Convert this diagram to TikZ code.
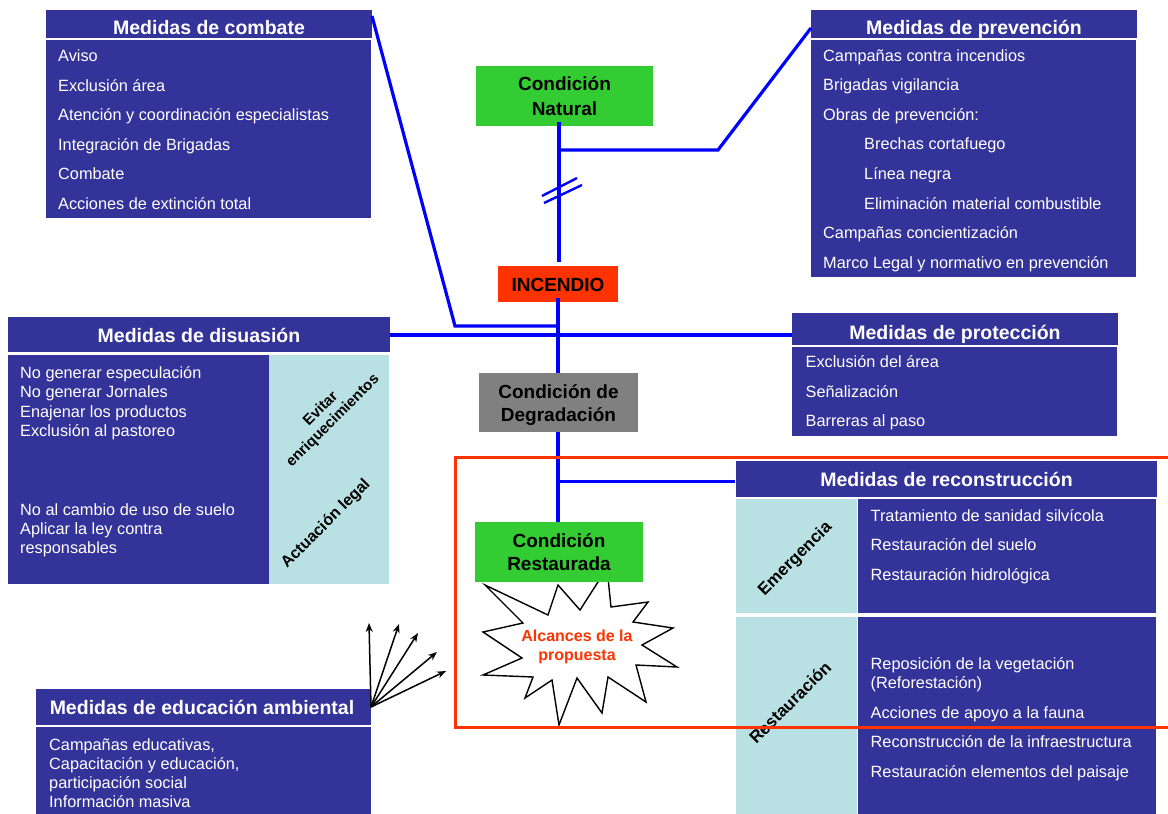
\documentclass[tikz,border=0pt]{standalone}
\usepackage{fontspec}
\setmainfont{Liberation Sans}
\usetikzlibrary{arrows.meta}
\definecolor{boxblue}{HTML}{333399}
\definecolor{lineblue}{HTML}{0000FF}
\definecolor{cyanbox}{HTML}{B9E0E3}
\definecolor{natgreen}{HTML}{33CC33}
\definecolor{firered}{HTML}{FF3300}
\definecolor{degray}{HTML}{808080}
\begin{document}
\begin{tikzpicture}[x=1pt,y=-1pt,
  panel/.style={fill=boxblue, draw=none, inner sep=0, anchor=north west},
  cpanel/.style={fill=cyanbox, draw=none, inner sep=0, anchor=north west},
  condbox/.style={draw=none, inner sep=0, anchor=north west},
  hdrtxt/.style={text=white, font=\bfseries\fontsize{19.5}{23}\selectfont, anchor=base, inner sep=0},
  itemtxt/.style={text=white, font=\fontsize{16.3}{19}\selectfont, anchor=base west, inner sep=0},
  condtxt/.style={text=black, font=\bfseries\fontsize{19}{23}\selectfont, anchor=base, inner sep=0},
  rottxt/.style={text=black, font=\bfseries\fontsize{16}{17}\selectfont, rotate=45, align=center, inner sep=0},
  conn/.style={draw=lineblue, line width=3.2pt},
  edarrow/.style={draw=black, line width=1.5pt, -{Stealth[length=9pt,width=7pt]}}
]
\useasboundingbox (0,0) rectangle (1168,814);
\clip (0,0) rectangle (1168,814);

% ---------- Medidas de combate ----------
\node[panel, minimum width=326, minimum height=27.5] (combH) at (46,10) {};
\node[panel, minimum width=325, minimum height=178.5] (combB) at (46,39.5) {};
\node[hdrtxt] (combT) at (209,34.3) {Medidas de combate};
\foreach \t [count=\i from 0] in {Aviso, Exclusión área, Atención y coordinación especialistas, Integración de Brigadas, Combate, Acciones de extinción total}
  \node[itemtxt] (comb\i) at (58,61.5+29.5*\i) {\t};

% ---------- Medidas de prevención ----------
\node[panel, minimum width=326, minimum height=27.5] (prevH) at (811,10) {};
\node[panel, minimum width=325, minimum height=237.5] (prevB) at (811,39.5) {};
\node[hdrtxt] (prevT) at (974,34.3) {Medidas de prevención};
\foreach \t [count=\i from 0] in {Campañas contra incendios, Brigadas vigilancia, Obras de prevención:}
  \node[itemtxt] (prevA\i) at (823,61+29.6*\i) {\t};
\foreach \t [count=\i from 3] in {Brechas cortafuego, Línea negra, Eliminación material combustible}
  \node[itemtxt] (prevB\i) at (864,61+29.6*\i) {\t};
\foreach \t [count=\i from 6] in {Campañas concientización, Marco Legal y normativo en prevención}
  \node[itemtxt] (prevC\i) at (823,61+29.6*\i) {\t};

% ---------- Medidas de disuasión ----------
\node[panel, minimum width=382, minimum height=35] (disH) at (8,317) {};
\node[panel, minimum width=261, minimum height=229] (disB) at (8,355) {};
\node[cpanel, minimum width=120, minimum height=229] (disC) at (269,355) {};
\node[hdrtxt] (disT) at (199,342.7) {Medidas de disuasión};
\foreach \t [count=\i from 0] in {No generar especulación, No generar Jornales, Enajenar los productos, Exclusión al pastoreo}
  \node[itemtxt] (disA\i) at (20,378.3+19.4*\i) {\t};
\foreach \t [count=\i from 0] in {No al cambio de uso de suelo, Aplicar la ley contra, responsables}
  \node[itemtxt] (disL\i) at (20,515+19.2*\i) {\t};
\node[rottxt, font=\bfseries\fontsize{15}{17}\selectfont] (evitar) at (327,415) {Evitar\\enriquecimientos};
\node[rottxt] (actua) at (326,524) {Actuación legal};

% ---------- Medidas de protección ----------
\node[panel, minimum width=326, minimum height=32] (protH) at (792,313) {};
\node[panel, minimum width=325, minimum height=89.5] (protB) at (792,346.5) {};
\node[hdrtxt] (protT) at (955,339) {Medidas de protección};
\foreach \t [count=\i from 0] in {Exclusión del área, Señalización, Barreras al paso}
  \node[itemtxt] (prot\i) at (805.5,367.7+29.5*\i) {\t};

% ---------- Medidas de reconstrucción ----------
\node[panel, minimum width=421, minimum height=36] (recH) at (736,461) {};
\node[cpanel, minimum width=121, minimum height=114] (recCE) at (736,499) {};
\node[panel, minimum width=298, minimum height=114] (recBE) at (858,499) {};
\node[cpanel, minimum width=121, minimum height=200] (recCR) at (736,617) {};
\node[panel, minimum width=298, minimum height=200] (recBR) at (858,617) {};
\node[hdrtxt] (recT) at (946.5,486.7) {Medidas de reconstrucción};
\foreach \t [count=\i from 0] in {Tratamiento de sanidad silvícola, Restauración del suelo, Restauración hidrológica}
  \node[itemtxt] (recE\i) at (870.5,521+29.5*\i) {\t};
\node[itemtxt] (recR0) at (870.5,669) {Reposición de la vegetación};
\node[itemtxt] (recR1) at (870.5,688.7) {(Reforestación)};
\node[itemtxt] (recR2) at (870.5,718) {Acciones de apoyo a la fauna};
\node[itemtxt] (recR3) at (870.5,747.7) {Reconstrucción de la infraestructura};
\node[itemtxt] (recR4) at (870.5,777.3) {Restauración elementos del paisaje};
\node[rottxt, font=\bfseries\fontsize{17}{19}\selectfont] (emerg) at (795.5,559) {Emergencia};
\node[rottxt, font=\bfseries\fontsize{17}{19}\selectfont] (resta) at (790,702.5) {Restauración};

% ---------- Medidas de educación ambiental ----------
\node[panel, minimum width=335, minimum height=36] (eduH) at (36,689) {};
\node[panel, minimum width=335, minimum height=90] (eduB) at (36,727) {};
\node[hdrtxt] (eduT) at (202,714.3) {Medidas de educación ambiental};
\foreach \t [count=\i from 0] in {{Campañas educativas,}, {Capacitación y educación,}, participación social, Información masiva}
  \node[itemtxt] (edu\i) at (49,750+19.1*\i) {\t};

% ---------- condition boxes ----------
\node[condbox, fill=natgreen, minimum width=177, minimum height=60] (nat) at (476,66) {};
\node[condtxt] (natA) at (564.5,90.7) {Condición};
\node[condtxt] (natB) at (564.5,115) {Natural};

\node[condbox, fill=firered, minimum width=120, minimum height=36] (inc) at (498,266) {};
\node[condtxt] (incT) at (558,291.7) {INCENDIO};

\node[condbox, fill=degray, minimum width=159, minimum height=59] (deg) at (479,373) {};
\node[condtxt] (degA) at (558.5,398.3) {Condición de};
\node[condtxt] (degB) at (558.5,421) {Degradación};

% ---------- connectors ----------
\coordinate (natLow) at (559,122);
\coordinate (natBr) at (559,150);
\coordinate (natBend) at (718,150);
\coordinate (prevIn) at (811,28);
\coordinate (incTop) at (559,262);
\coordinate (combOut) at (372,16);
\coordinate (combBend) at (455,326);
\coordinate (mainJ) at (558,326);
\coordinate (incLow) at (558,298);
\coordinate (degTop) at (558,373);
\coordinate (disOut) at (390,335);
\coordinate (protIn) at (792,335);
\coordinate (degLow) at (558,432);
\coordinate (resTop) at (558,522);
\coordinate (recJ) at (558,481.5);
\coordinate (recIn) at (735,481.5);

\draw[conn] (natLow) -- (incTop);
\draw[conn, line join=miter] (natBr) -- (natBend) -- (prevIn);
\draw[conn, line width=2.4pt] (542,196) -- (577,178);
\draw[conn, line width=2.4pt] (544,203) -- (582,185);
\draw[conn] (incLow) -- (degTop);
\draw[conn, line join=miter] (combOut) -- (combBend) -- (mainJ);
\draw[conn] (disOut) -- (protIn);
\draw[conn] (degLow) -- (resTop);
\draw[conn] (recJ) -- (recIn);

% ---------- starburst ----------
\draw[black, line width=1.4pt, fill=white, line join=miter]
  (485,585) -- (548,615) -- (558,585) -- (580,610) -- (607,568) -- (611,607) --
  (648,602) -- (633,622) -- (673,628) -- (642,645) -- (677,667) -- (636,665) --
  (646,702) -- (608,677) -- (602,713) -- (577,678) -- (559,725) -- (552,680) --
  (525,698) -- (533,677) -- (483,675) -- (522,658) -- (483,632) -- (523,623) -- cycle;
\node[text=firered, font=\bfseries\fontsize{16}{19}\selectfont, anchor=base, inner sep=0] (alcA) at (577,641.7) {Alcances de la};
\node[text=firered, font=\bfseries\fontsize{16}{19}\selectfont, anchor=base, inner sep=0] (alcB) at (577,660.7) {propuesta};

\node[condbox, fill=natgreen, minimum width=168, minimum height=60] (res) at (475,522) {};
\node[condtxt] (resA) at (559,547.3) {Condición};
\node[condtxt] (resB) at (559,570) {Restaurada};

% ---------- red frame ----------
\node[draw=firered, line width=2.7pt, inner sep=0, anchor=north west, minimum width=730, minimum height=270] (frame) at (454,456) {};

% ---------- education arrows ----------
\coordinate (edSrc) at (371,707);
\coordinate (edT1) at (369,623);
\coordinate (edT2) at (399,624);
\coordinate (edT3) at (418,633);
\coordinate (edT4) at (437,652);
\coordinate (edT5) at (446,671);
\foreach \k in {1,...,5} \draw[edarrow] (edSrc) -- (edT\k);
\end{tikzpicture}
\end{document}
